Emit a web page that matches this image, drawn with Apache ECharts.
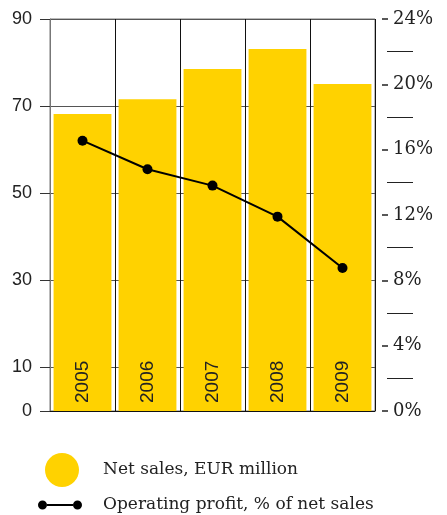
<!DOCTYPE html>
<html>
<head>
<meta charset="utf-8">
<script src="https://cdn.jsdelivr.net/npm/echarts@6/dist/echarts.min.js"></script>
<style>html,body{margin:0;padding:0;background:#fff;}#c{width:447px;height:515px;}</style>
</head>
<body>
<div id="c"></div>
<script>
const years = ['2005', '2006', '2007', '2008', '2009'];
const netSales = [68.2, 71.6, 78.5, 83.1, 75.1];
const opProfitPct = [16.55, 14.8, 13.8, 11.9, 8.75];
const leftTicks = [0, 10, 30, 50, 70, 90];
const rightMinorTicks = [2, 6, 10, 14, 18, 22];
const salesName = 'Net sales, EUR million';
const profitName = 'Operating profit, % of net sales';

const chart = echarts.init(document.getElementById('c'));
const serif = 'DejaVu Serif';
const sans = 'Liberation Sans';
chart.setOption({
  animation: false,
  grid: { left: 50, right: 72, top: 19, bottom: 104, show: true, borderColor: '#777', borderWidth: 1, backgroundColor: 'transparent' },
  legend: [
    {
      data: [salesName], left: 45, top: 453, padding: 0, icon: 'circle', itemWidth: 34, itemHeight: 34,
      textStyle: { fontFamily: serif, fontSize: 17, color: '#222', padding: [0, 0, 0, 19] }
    },
    {
      data: [profitName], left: 38, top: 495, padding: 0, itemWidth: 44, itemHeight: 9,
      icon: 'path://M0,4.5a4.5,4.5 0 1,0 9,0a4.5,4.5 0 1,0 -9,0z M9,3.5h26v2h-26z M35,4.5a4.5,4.5 0 1,0 9,0a4.5,4.5 0 1,0 -9,0z',
      textStyle: { fontFamily: serif, fontSize: 17, lineHeight: 20, color: '#222', padding: [0, 0, 0, 16] }
    }
  ],
  xAxis: {
    type: 'category', data: years,
    axisLine: { show: true, lineStyle: { color: '#111', width: 1 } },
    axisTick: { show: false },
    axisLabel: { show: false },
    splitLine: { show: true, interval: 0, lineStyle: { color: '#111', width: 1 } }
  },
  yAxis: [
    {
      type: 'value', min: 0, max: 90, interval: 10,
      axisLine: { show: true, lineStyle: { color: '#777', width: 1 } },
      axisTick: { show: true, length: 10, customValues: leftTicks, lineStyle: { color: '#333' } },
      axisLabel: { customValues: leftTicks, margin: 18, fontFamily: sans, fontSize: 18, color: '#222' },
      splitLine: { show: true, lineStyle: { color: '#555', width: 1 } }
    },
    {
      type: 'value', position: 'right', min: 0, max: 24, interval: 4, offset: 7,
      axisLine: { show: false },
      axisTick: { show: true, length: 6, lineStyle: { color: '#222', width: 1.5 } },
      axisLabel: { margin: 11, formatter: '{value}%', fontFamily: serif, fontSize: 18, color: '#222' },
      splitLine: { show: false }
    },
    {
      type: 'value', position: 'right', min: 0, max: 24, interval: 2, offset: 12,
      axisLine: { show: false },
      axisTick: { show: true, length: 26, customValues: rightMinorTicks, lineStyle: { color: '#222', width: 1 } },
      axisLabel: { show: false },
      splitLine: { show: false }
    }
  ],
  series: [
    {
      name: salesName, type: 'bar', data: netSales, yAxisIndex: 0,
      barCategoryGap: '11%',
      itemStyle: { color: '#FFD200' },
      label: {
        show: true, position: 'insideBottom', rotate: 90, distance: 8,
        align: 'left', verticalAlign: 'middle',
        formatter: p => p.name, fontFamily: sans, fontSize: 19, color: '#222'
      },
      z: 2
    },
    {
      name: profitName, type: 'line', data: opProfitPct, yAxisIndex: 1,
      symbol: 'circle', symbolSize: 10,
      itemStyle: { color: '#000' },
      lineStyle: { color: '#000', width: 2 },
      z: 5
    }
  ]
});
</script>
</body>
</html>
